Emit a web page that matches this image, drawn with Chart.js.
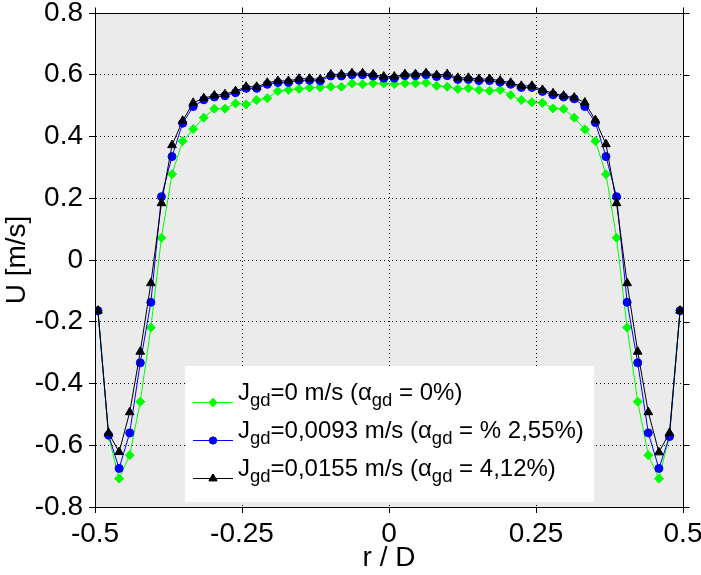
<!DOCTYPE html>
<html>
<head>
<meta charset="utf-8">
<script src="https://cdn.jsdelivr.net/npm/chart.js@4.4.1/dist/chart.umd.min.js"></script>
<style>
html, body { margin: 0; padding: 0; background: #fff; }
#chart { display: block; }
</style>
</head>
<body>
<canvas id="chart" width="701" height="575"></canvas>
<script>
// r / D positions of the measurement points
const rD = [-0.495, -0.477, -0.459, -0.441, -0.423, -0.405, -0.387, -0.369, -0.351, -0.333,
  -0.315, -0.297, -0.279, -0.261, -0.243, -0.225, -0.207, -0.189, -0.171, -0.153,
  -0.135, -0.117, -0.099, -0.081, -0.063, -0.045, -0.027, -0.009, 0.009, 0.027,
  0.045, 0.063, 0.081, 0.099, 0.117, 0.135, 0.153, 0.171, 0.189, 0.207,
  0.225, 0.243, 0.261, 0.279, 0.297, 0.315, 0.333, 0.351, 0.369, 0.387,
  0.405, 0.423, 0.441, 0.459, 0.477, 0.495];

// U [m/s], Jgd = 0
const uGreen = [-0.164, -0.570, -0.708, -0.632, -0.459, -0.219, 0.072, 0.278, 0.385, 0.424,
  0.461, 0.490, 0.490, 0.507, 0.504, 0.518, 0.524, 0.547, 0.551, 0.554,
  0.558, 0.559, 0.561, 0.561, 0.572, 0.569, 0.572, 0.572, 0.570, 0.572,
  0.572, 0.574, 0.564, 0.561, 0.554, 0.556, 0.551, 0.548, 0.551, 0.534,
  0.518, 0.511, 0.509, 0.491, 0.489, 0.461, 0.423, 0.385, 0.278, 0.072,
  -0.219, -0.459, -0.632, -0.708, -0.570, -0.164];

// U [m/s], Jgd = 0,0093
const uBlue = [-0.164, -0.567, -0.675, -0.560, -0.333, -0.137, 0.205, 0.335, 0.443, 0.497,
  0.519, 0.528, 0.532, 0.542, 0.556, 0.556, 0.569, 0.575, 0.575, 0.582,
  0.582, 0.580, 0.596, 0.596, 0.600, 0.600, 0.596, 0.589, 0.589, 0.597,
  0.597, 0.600, 0.594, 0.597, 0.585, 0.585, 0.581, 0.581, 0.576, 0.569,
  0.559, 0.559, 0.546, 0.535, 0.528, 0.522, 0.497, 0.445, 0.335, 0.205,
  -0.137, -0.333, -0.560, -0.675, -0.572, -0.164];

// U [m/s], Jgd = 0,0155
const uBlack = [-0.164, -0.560, -0.622, -0.493, -0.297, -0.075, 0.184, 0.372, 0.451, 0.509,
  0.524, 0.533, 0.537, 0.547, 0.561, 0.561, 0.574, 0.580, 0.580, 0.587,
  0.587, 0.585, 0.601, 0.601, 0.605, 0.605, 0.601, 0.594, 0.594, 0.602,
  0.602, 0.605, 0.599, 0.602, 0.590, 0.590, 0.586, 0.586, 0.581, 0.574,
  0.564, 0.564, 0.551, 0.540, 0.532, 0.526, 0.510, 0.453, 0.375, 0.184,
  -0.075, -0.297, -0.493, -0.623, -0.560, -0.164];

const xTickLabels = ['-0.5', '-0.25', '0', '0.25', '0.5'];
const yTickLabels = ['-0.8', '-0.6', '-0.4', '-0.2', '0', '0.2', '0.4', '0.6', '0.8'];

// legend texts, split so the "gd" parts can be drawn as subscripts
const legendParts = [
  [['J'], ['gd', 1], ['=0 m/s ('], ['\u03b1'], ['gd', 1], [' = 0%)']],
  [['J'], ['gd', 1], ['=0,0093 m/s ('], ['\u03b1'], ['gd', 1], [' = % 2,55%)']],
  [['J'], ['gd', 1], ['=0,0155 m/s ('], ['\u03b1'], ['gd', 1], [' = 4,12%)']]
];
const seriesColors = ['#00ff00', '#0000ff', '#000000'];
const seriesMarkers = ['rectRot', 'circle', 'triangle'];
const markerSizes = [4.5, 4, 5];

const FONT = '"Liberation Sans", Arial, sans-serif';
Chart.defaults.font.family = FONT;
Chart.defaults.color = '#000';

function pairs(ys) {
  return ys.map((y, i) => ({ x: rD[i], y: y }));
}

const frame = {
  id: 'frame',
  beforeDraw(chart) {
    const { ctx, chartArea: a } = chart;
    ctx.save();
    ctx.fillStyle = '#ebebeb';
    ctx.fillRect(a.left, a.top, a.right - a.left, a.bottom - a.top);
    ctx.restore();
  },
  afterDraw(chart) {
    const { ctx, chartArea: a, scales } = chart;
    const top = Math.floor(a.top) + 0.5;
    const right = Math.floor(a.right) + 0.5;
    ctx.save();
    ctx.strokeStyle = '#000';
    ctx.lineWidth = 1;
    ctx.beginPath();
    ctx.moveTo(a.left, top);
    ctx.lineTo(right, top);
    ctx.lineTo(right, a.bottom);
    // outward ticks on top and right
    scales.x.ticks.forEach(t => {
      const px = Math.round(scales.x.getPixelForValue(t.value)) + 0.5;
      ctx.moveTo(px, top);
      ctx.lineTo(px, top - 6);
    });
    scales.y.ticks.forEach(t => {
      const py = Math.round(scales.y.getPixelForValue(t.value)) + 0.5;
      ctx.moveTo(right, py);
      ctx.lineTo(right + 6, py);
    });
    ctx.stroke();

    // legend
    const bx = 185, by = 366, bw = 409, bh = 136;
    ctx.fillStyle = '#fff';
    ctx.fillRect(bx, by, bw, bh);
    legendParts.forEach((parts, i) => {
      const ly = Math.round(by + 36 + i * 37.8) + 0.5;
      ctx.strokeStyle = seriesColors[i];
      ctx.lineWidth = 1;
      ctx.beginPath();
      ctx.moveTo(bx + 8, ly);
      ctx.lineTo(bx + 48, ly);
      ctx.stroke();
      ctx.fillStyle = seriesColors[i];
      Chart.helpers.drawPoint(ctx, {
        pointStyle: seriesMarkers[i], radius: markerSizes[i] - 0.5, borderWidth: 1, rotation: 0
      }, bx + 28, ly);
      ctx.fill();
      ctx.stroke();
      let tx = bx + 53;
      const base = ly - 2.5;
      ctx.fillStyle = '#000';
      ctx.textBaseline = 'alphabetic';
      ctx.textAlign = 'left';
      parts.forEach(p => {
        ctx.font = p[1] ? '18.5px ' + FONT : '24px ' + FONT;
        ctx.fillText(p[0], tx, p[1] ? base + 6 : base);
        tx += ctx.measureText(p[0]).width;
      });
    });
    ctx.restore();
  }
};

const ctx = document.getElementById('chart').getContext('2d');
new Chart(ctx, {
  type: 'scatter',
  data: {
    datasets: [
      {
        label: 'Jgd=0 m/s',
        data: pairs(uGreen),
        showLine: true,
        borderColor: seriesColors[0],
        backgroundColor: seriesColors[0],
        borderWidth: 1,
        pointStyle: seriesMarkers[0],
        pointRadius: markerSizes[0],
        pointBorderWidth: 1,
        order: 3
      },
      {
        label: 'Jgd=0,0093 m/s',
        data: pairs(uBlue),
        showLine: true,
        borderColor: seriesColors[1],
        backgroundColor: seriesColors[1],
        borderWidth: 1,
        pointStyle: seriesMarkers[1],
        pointRadius: markerSizes[1],
        pointBorderWidth: 1,
        order: 2
      },
      {
        label: 'Jgd=0,0155 m/s',
        data: pairs(uBlack),
        showLine: true,
        borderColor: seriesColors[2],
        backgroundColor: seriesColors[2],
        borderWidth: 1,
        pointStyle: seriesMarkers[2],
        pointRadius: markerSizes[2],
        pointBorderWidth: 1,
        order: 1
      }
    ]
  },
  options: {
    responsive: false,
    animation: false,
    layout: { padding: { top: 13, right: 18, left: 0, bottom: 0 } },
    plugins: {
      legend: { display: false },
      tooltip: { enabled: false }
    },
    scales: {
      x: {
        type: 'linear',
        min: -0.5,
        max: 0.5,
        afterFit(s) { s.height = 68; s.paddingLeft = 0; s.paddingRight = 0; },
        ticks: {
          stepSize: 0.25,
          padding: 4,
          maxRotation: 0,
          font: { size: 28 },
          callback: (v, i) => xTickLabels[i]
        },
        grid: { color: '#000', lineWidth: 1, tickLength: 6, tickColor: '#000', tickBorderDash: [] },
        border: { display: true, color: '#000', width: 1, dash: [1, 3] },
        title: { display: true, text: 'r / D', font: { size: 28 }, padding: { top: 0, bottom: 0 } }
      },
      y: {
        type: 'linear',
        min: -0.8,
        max: 0.8,
        afterFit(s) { s.width = 95; s.paddingTop = 0; s.paddingBottom = 0; },
        ticks: {
          stepSize: 0.2,
          padding: 6,
          font: { size: 28 },
          callback: (v, i) => yTickLabels[i]
        },
        grid: { color: '#000', lineWidth: 1, tickLength: 6, tickColor: '#000', tickBorderDash: [] },
        border: { display: true, color: '#000', width: 1, dash: [1, 3] },
        title: { display: true, text: 'U [m/s]', font: { size: 28 }, padding: { top: 0, bottom: 0 } }
      }
    }
  },
  plugins: [frame]
});
</script>
</body>
</html>
